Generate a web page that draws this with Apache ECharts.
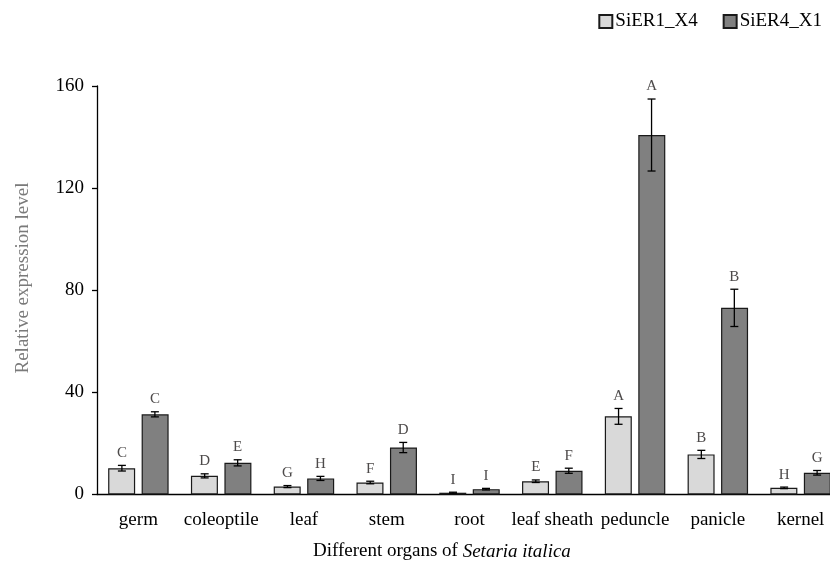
<!DOCTYPE html>
<html>
<head>
<meta charset="utf-8">
<script src="https://cdn.jsdelivr.net/npm/echarts@6/dist/echarts.min.js"></script>
<style>html,body{margin:0;padding:0;background:#fff}#c{width:830px;height:565px}</style>
</head>
<body>
<div id="c"></div>
<script>
var categories = ['germ','coleoptile','leaf','stem','root','leaf sheath','peduncle','panicle','kernel'];
var seriesNames = ['SiER1_X4','SiER4_X1'];
var er1Values = [10.3, 7.3, 3.1, 4.7, 0.7, 5.2, 30.6, 15.7, 2.6];
var er1Errors = [1.1, 0.8, 0.4, 0.5, 0.2, 0.5, 3.1, 1.6, 0.3];
var er1Letters = ['C','D','G','F','I','E','A','B','H'];
var er4Values = [31.4, 12.4, 6.3, 18.4, 2.1, 9.3, 140.8, 73.1, 8.5];
var er4Errors = [1.0, 1.2, 0.8, 2.0, 0.3, 1.0, 14.1, 7.3, 0.9];
var er4Letters = ['C','E','H','D','I','F','A','B','G'];
var yTicks = [0, 40, 80, 120, 160];

var FONT = '"Liberation Serif", "Times New Roman", serif';
var chart = echarts.init(document.getElementById('c'), null, {renderer: 'canvas'});

function errData(vals, errs, letters) {
  return vals.map(function (v, i) { return [i, v, errs[i], letters[i]]; });
}
function errSeries(data, offset) {
  return {
    type: 'custom',
    silent: true,
    clip: false,
    z: 5,
    encode: {x: 0, y: 1},
    data: data,
    renderItem: function (params, api) {
      var idx = api.value(0), v = api.value(1), e = api.value(2);
      var c = api.coord([idx, v]);
      var x = c[0] + offset;
      var top = api.coord([idx, v + e])[1];
      var bot = api.coord([idx, Math.max(v - e, 0)])[1];
      var cap = 4;
      var ls = {stroke: '#000', lineWidth: 1.3};
      return {
        type: 'group',
        children: [
          {type: 'line', shape: {x1: x, y1: top, x2: x, y2: bot}, style: ls},
          {type: 'line', shape: {x1: x - cap, y1: top, x2: x + cap, y2: top}, style: ls},
          {type: 'line', shape: {x1: x - cap, y1: bot, x2: x + cap, y2: bot}, style: ls},
          {type: 'text', style: {text: data[params.dataIndex][3], x: x, y: top - 5,
            textAlign: 'center', textVerticalAlign: 'bottom',
            font: '15px ' + FONT, fill: '#4d4a4a'}}
        ]
      };
    }
  };
}

var option = {
  animation: false,
  backgroundColor: '#fff',
  grid: {left: 97, right: -12, top: 86, bottom: 70.5, containLabel: false, outerBoundsMode: 'none'},
  legend: {
    right: 3, top: 7,
    itemWidth: 13, itemHeight: 13, itemGap: 25,
    icon: 'rect',
    textStyle: {fontFamily: FONT, fontSize: 19, color: '#000', padding: [0, 0, 0, -2]},
    data: seriesNames
  },
  xAxis: {
    type: 'category',
    data: categories,
    axisLine: {lineStyle: {color: '#000', width: 1.3}},
    axisTick: {alignWithLabel: true, length: 5, lineStyle: {color: '#000', width: 1.3}},
    axisLabel: {fontFamily: FONT, fontSize: 19, color: '#000', margin: 16, interval: 0}
  },
  yAxis: {
    type: 'value',
    min: 0, max: 160, interval: 40,
    axisLine: {show: true, lineStyle: {color: '#000', width: 1.3}},
    axisTick: {show: true, length: 5, inside: false, lineStyle: {color: '#000', width: 1.3}},
    splitLine: {show: false},
    axisLabel: {fontFamily: FONT, fontSize: 19, color: '#000', margin: 13,
      formatter: function (v) { return yTicks.indexOf(v) >= 0 ? String(v) : ''; }}
  },
  graphic: [
    {type: 'text', left: 313, top: 542, silent: true,
      style: {text: '{a|Different organs of }{b|Setaria italica}',
        rich: {a: {fontFamily: FONT, fontSize: 19, fill: '#000'},
               b: {fontFamily: FONT, fontSize: 19, fontStyle: 'italic', fill: '#000'}}}},
    {type: 'text', x: 23, y: 278, rotation: Math.PI / 2, silent: true,
      style: {text: 'Relative expression level', textAlign: 'center', textVerticalAlign: 'middle',
        font: '19px ' + FONT, fill: '#7a7a7a'}}
  ],
  series: [
    {name: seriesNames[0], type: 'bar', data: er1Values, barWidth: 27, barGap: '24%',
      itemStyle: {color: '#d9d9d9', borderColor: '#1a1a1a', borderWidth: 1.2}},
    {name: seriesNames[1], type: 'bar', data: er4Values, barWidth: 27,
      itemStyle: {color: '#808080', borderColor: '#1a1a1a', borderWidth: 1.2}},
    errSeries(errData(er1Values, er1Errors, er1Letters), -16.5),
    errSeries(errData(er4Values, er4Errors, er4Letters), 16.5)
  ]
};
chart.setOption(option);
</script>
</body>
</html>
